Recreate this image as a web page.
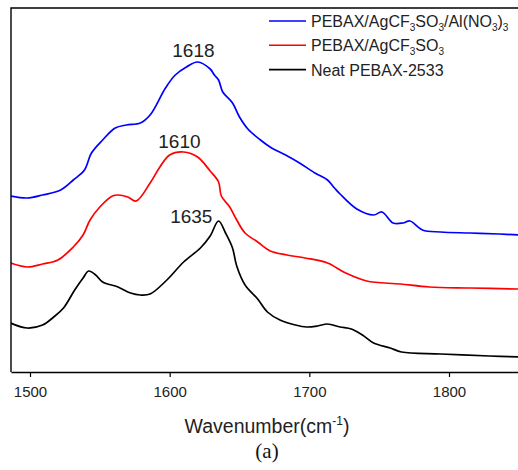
<!DOCTYPE html>
<html>
<head>
<meta charset="utf-8">
<script src="https://cdn.jsdelivr.net/npm/d3@7"></script>
<style>
    body { margin: 0; background: #fff; }
    svg { display: block; font-family: Arial, "Liberation Sans", sans-serif; }
</style>
</head>
<body>
<svg id="chart" width="518" height="470"></svg>
<script>
// FTIR spectra (absorbance in arbitrary offset units)
const alWavenumber = [1486, 1498, 1509, 1522, 1531, 1539, 1544, 1552, 1561, 1569, 1579, 1586, 1597, 1604, 1612, 1620, 1629, 1632, 1635, 1638, 1645, 1650, 1656, 1665, 1673, 1683, 1693, 1704, 1713, 1718, 1722, 1734, 1746, 1752, 1760, 1767, 1772, 1781, 1794, 1815, 1836, 1850];
const alAbsorbance = [1.76, 1.74, 1.77, 1.82, 1.92, 2.02, 2.19, 2.32, 2.44, 2.47, 2.49, 2.57, 2.84, 2.97, 3.05, 3.10, 3.03, 2.97, 2.92, 2.80, 2.69, 2.55, 2.43, 2.32, 2.24, 2.17, 2.09, 1.99, 1.92, 1.84, 1.78, 1.63, 1.57, 1.60, 1.49, 1.49, 1.51, 1.42, 1.40, 1.39, 1.38, 1.37];

const agWavenumber = [1486, 1498, 1509, 1520, 1531, 1538, 1543, 1550, 1559, 1563, 1570, 1576, 1586, 1593, 1600, 1610, 1620, 1629, 1635, 1637, 1643, 1648, 1654, 1663, 1672, 1684, 1697, 1713, 1726, 1741, 1765, 1786, 1815, 1850];
const agAbsorbance = [1.09, 1.05, 1.08, 1.12, 1.25, 1.37, 1.52, 1.65, 1.76, 1.77, 1.75, 1.71, 1.89, 2.05, 2.17, 2.20, 2.15, 2.01, 1.90, 1.76, 1.65, 1.52, 1.39, 1.30, 1.21, 1.17, 1.14, 1.09, 0.99, 0.91, 0.88, 0.85, 0.84, 0.83];

const neatWavenumber = [1486, 1498, 1509, 1517, 1524, 1532, 1538, 1542, 1547, 1552, 1563, 1572, 1579, 1586, 1598, 1610, 1622, 1629, 1635, 1640, 1645, 1648, 1654, 1663, 1670, 1679, 1690, 1698, 1706, 1713, 1722, 1730, 1738, 1746, 1758, 1766, 1794, 1829, 1850];
const neatAbsorbance = [0.49, 0.44, 0.47, 0.55, 0.64, 0.82, 0.94, 1.01, 0.97, 0.90, 0.85, 0.79, 0.77, 0.78, 0.92, 1.10, 1.24, 1.36, 1.51, 1.39, 1.24, 1.06, 0.87, 0.73, 0.60, 0.52, 0.47, 0.45, 0.46, 0.48, 0.45, 0.43, 0.37, 0.29, 0.24, 0.20, 0.18, 0.16, 0.15];

const xTicks = [1500, 1600, 1700, 1800];

const peakText = ["1618", "1610", "1635"];
const peakWavenumber = [1617, 1607, 1615.5];
const peakAbsorbance = [3.15, 2.24, 1.49];

// legend labels as [text, isSubscript] pieces
const legendLabels = [
    [["PEBAX/AgCF", 0], ["3", 1], ["SO", 0], ["3", 1], ["/Al(NO", 0], ["3", 1], [")", 0], ["3", 1]],
    [["PEBAX/AgCF", 0], ["3", 1], ["SO", 0], ["3", 1]],
    [["Neat PEBAX-2533", 0]]
];
const seriesColors = ["#0000ff", "#ff0000", "#000000"];

const d3s = window.d3;
const svg = d3s.select("#chart");

const margin = { left: 11, top: 8, right: 0, bottom: 98 };
const width = 518, height = 470;

const x = d3s.scaleLinear().domain([1486.4, 1849.4]).range([margin.left, width - margin.right]);
const y = d3s.scaleLinear().domain([0, 3.64]).range([height - margin.bottom, margin.top]);

svg.append("defs").append("clipPath").attr("id", "plot-clip")
    .append("rect")
    .attr("x", margin.left).attr("y", margin.top)
    .attr("width", width - margin.left - margin.right)
    .attr("height", height - margin.top - margin.bottom);

const series = [
    d3s.zip(alWavenumber, alAbsorbance),
    d3s.zip(agWavenumber, agAbsorbance),
    d3s.zip(neatWavenumber, neatAbsorbance)
];

const line = d3s.line(d => x(d[0]), d => y(d[1])).curve(d3s.curveCatmullRom.alpha(0.5));

svg.append("g")
    .attr("clip-path", "url(#plot-clip)")
    .selectAll("path")
    .data(series)
    .join("path")
    .attr("fill", "none")
    .attr("stroke", (d, i) => seriesColors[i])
    .attr("stroke-width", 1.7)
    .attr("stroke-linejoin", "round")
    .attr("d", line);

// frame: left, top
svg.append("path")
    .attr("fill", "none")
    .attr("stroke", "#000")
    .attr("stroke-width", 1.4)
    .attr("d", `M${width},${margin.top}H${margin.left}V${height - margin.bottom}`);

// bottom axis
const xAxis = d3s.axisBottom(x).tickValues(xTicks).tickFormat(d3s.format("d"))
    .tickSize(5).tickSizeOuter(0).tickPadding(9);

svg.append("g")
    .attr("transform", `translate(0, ${height - margin.bottom})`)
    .call(xAxis)
    .call(g => g.select(".domain").attr("stroke-width", 1.4))
    .call(g => g.selectAll(".tick line").attr("stroke-width", 1.2))
    .call(g => g.selectAll("text")
        .attr("font-family", "Arial, 'Liberation Sans', sans-serif")
        .attr("font-size", 15)
        .attr("fill", "#222"));

// axis title
const title = svg.append("text")
    .attr("x", 267)
    .attr("y", 433)
    .attr("text-anchor", "middle")
    .attr("font-size", 19.5)
    .attr("fill", "#222");
title.append("tspan").text("Wavenumber(cm");
title.append("tspan").attr("font-size", 12).attr("dy", -8).text("-1");
title.append("tspan").attr("dy", 8).text(")");

svg.append("text")
    .attr("x", 267)
    .attr("y", 458)
    .attr("text-anchor", "middle")
    .attr("font-family", "'Times New Roman', 'Liberation Serif', serif")
    .attr("font-size", 21)
    .attr("fill", "#111")
    .text("(a)");

// peak labels
svg.append("g")
    .selectAll("text")
    .data(peakText)
    .join("text")
    .attr("x", (d, i) => x(peakWavenumber[i]))
    .attr("y", (d, i) => y(peakAbsorbance[i]))
    .attr("text-anchor", "middle")
    .attr("font-size", 19)
    .attr("fill", "#222")
    .text(d => d);

// legend
const legend = svg.append("g").attr("transform", "translate(269, 21)");
const rows = legend.selectAll("g")
    .data(legendLabels)
    .join("g")
    .attr("transform", (d, i) => `translate(0, ${i * 24.3})`);

rows.append("line")
    .attr("x1", 0).attr("x2", 37)
    .attr("stroke", (d, i) => seriesColors[i])
    .attr("stroke-width", 1.6);

rows.append("text")
    .attr("x", 42)
    .attr("y", 6)
    .attr("font-size", 16)
    .attr("fill", "#222")
    .each(function (parts) {
        const t = d3s.select(this);
        let prevSub = 0;
        parts.forEach(([s, sub]) => {
            const shift = (sub ? 4 : 0) - (prevSub ? 4 : 0);
            t.append("tspan")
                .attr("dy", shift)
                .attr("font-size", sub ? 10 : 16)
                .text(s);
            prevSub = sub;
        });
    });
</script>
</body>
</html>
